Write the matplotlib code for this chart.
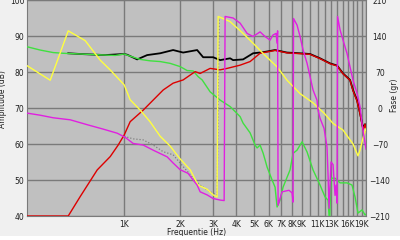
import matplotlib
matplotlib.use("Agg")
import matplotlib.pyplot as plt
from matplotlib.patches import Rectangle

# --- amplitude curves (dB) ---
woofer_f = [301, 353, 415, 470, 580, 791, 895, 1000, 1077, 1219, 1380, 1562, 1767, 2000,
            2182, 2350, 2500, 2627, 2900, 3282, 3715, 3953, 4205, 4363, 4758, 5062, 5188,
            5384, 5588, 5728, 5872, 6248, 6484, 6646, 6898, 7157, 7805, 8102, 8515, 9057,
            9636, 10378, 11318, 12039, 12497, 12730, 12970, 13630, 14502, 15810, 16820,
            17460, 18110, 19040, 19760, 20000]
woofer_db = [87.0, 86.1, 85.4, 85.2, 85.0, 84.7, 84.6, 85.0, 84.4, 83.5, 83.1, 82.9, 82.4, 81.5,
             80.4, 80.3, 78.7, 77.8, 74.5, 72.2, 70.4, 69.0, 67.6, 65.8, 63.1, 59.7, 58.9,
             59.7, 57.5, 55.6, 53.6, 50.0, 48.0, 42.5, 44.4, 48.0, 52.8, 57.4, 58.3, 60.6,
             57.8, 52.8, 48.6, 45.3, 44.4, 38.0, 50.5, 50.5, 49.2, 49.2, 48.6,
             45.3, 40.8, 41.7, 40.3, 40.5]

total_f = [500, 580, 791, 1000, 1038, 1175, 1329, 1562, 1834, 2076, 2469, 2660, 3010, 3282,
           3715, 3855, 4363, 4938, 5588, 6484, 7520, 8837, 10000, 11318, 12810, 13974,
           15050, 16410, 17030, 17890, 18570, 19040, 19280, 19760, 20000]
total_db = [85.2, 85.0, 84.7, 85.0, 84.8, 83.5, 84.7, 85.2, 86.1, 85.4, 86.1, 84.1, 84.1, 83.3,
            83.8, 83.3, 83.5, 85.2, 85.5, 86.1, 85.4, 85.2, 85.0, 83.8, 82.4, 81.8,
            79.6, 77.8, 75.0, 72.2, 68.6, 65.8, 64.5, 65.5, 64.5]

tweeter_f = [301, 500, 580, 716, 841, 928, 1000, 1077, 1265, 1432, 1621, 1834, 2076, 2409,
             2563, 2900, 3282, 3579, 4205, 4758, 5384, 6484, 7520, 8837, 10000, 11318,
             12810, 13974, 15050, 16410, 17030, 17890, 18570, 19040, 19280, 19760, 20000]
tweeter_db = [40.0, 40.0, 45.4, 52.8, 56.5, 59.7, 62.5, 66.2, 69.4, 72.2, 75.0, 76.9, 77.8, 80.1,
              79.6, 81.0, 80.6, 81.0, 81.9, 82.9, 85.2, 86.0, 85.3, 85.1, 84.9, 83.7,
              82.3, 81.7, 79.5, 77.7, 74.8, 72.0, 68.4, 65.5, 63.9, 65.5, 63.5]

# --- phase curves (degrees) ---
yellow_f = [301, 400, 500, 617, 743, 841, 1000, 1077, 1219, 1380, 1562, 1767, 2000, 2264,
            2500, 2795, 3010, 3162, 3202, 3715, 4363, 5062, 5588, 6646, 7520, 8837, 10378,
            11900, 13298, 15050, 17030, 18110, 18570, 19280, 20000]
yellow_deg = [82, 54, 150, 131, 93, 74, 45, 16, -4, -27, -55, -74, -99, -120,
              -150, -158, -169, -173, 178, 168, 145, 122, 106, 80, 54, 28, 10,
              -10, -30, -43, -70, -93, -82, -58, -40]

magenta_f = [301, 353, 415, 513, 640, 770, 917, 1012, 1118, 1265, 1432, 1703, 1834, 2000,
             2205, 2469, 2563, 2795, 3010, 3282, 3450, 3491, 3855, 4205, 4585, 4938, 5384,
             5728, 6094, 6320, 6565, 6646, 6690, 6730, 7070, 7700, 8000, 8102, 8150, 8515,
             8837, 9170, 9636, 10000, 10378, 10905, 11050, 11318, 11900, 12340, 12497,
             12650, 12810, 12970, 13298, 13630, 13800, 13974, 14060, 14502, 15050, 15810,
             16410, 17030, 17890, 18570, 19040, 19500, 20000]
magenta_deg = [-10, -14, -19, -23, -33, -41, -49, -57, -69, -72, -82, -95, -107, -120,
               -127, -150, -163, -169, -176, -179, -180, 178, 175, 165, 145, 139, 148,
               139, 132, 142, 145, 126, 150, -189, -163, -160, -165, -183, 174, 161,
               139, 113, 87, 61, 35, 15, -5, -20, -40, -76, -130,
               -195, -150, -105, -110, -170, -150, -185, 178, 152, 132, 106,
               80, 54, 29, 3, -30, -55, -80]

target_f = [1000, 1118, 1265, 1432, 1621, 1834, 2076, 2350, 2563, 2900, 3162, 3242]
target_deg = [-55, -60, -62, -72, -85, -91, -114, -136, -150, -163, -169, 176]

xtick_vals = [1000, 2000, 3000, 4000, 5000, 6000, 7000, 8000, 9000, 11000, 13000, 16000, 19000]
xtick_labels = ["1K", "2K", "3K", "4K", "5K", "6K", "7K", "8K", "9K", "11K", "13K", "16K", "19K"]
grid_khz = [k * 1000 for k in range(1, 21)]

fs = 5.5
fig = plt.figure(figsize=(4, 2.4), dpi=100, facecolor="#f0f0f0")
fig.patches.append(Rectangle((0, 0), 1, 0.017, transform=fig.transFigure,
                             facecolor="white", edgecolor="none", zorder=0))
ax = fig.add_axes([27 / 400, 24 / 240, 339 / 400, 216 / 240])
ax.set_facecolor("#c0c0c0")
ax.set_xscale("log")
ax.set_xlim(300, 20000)
ax.set_ylim(40, 100)

ax.set_xticks(grid_khz, minor=True)
ax.set_xticks(xtick_vals)
ax.set_xticklabels(xtick_labels)
ax.tick_params(axis="x", which="minor", length=0, labelbottom=False)
ax.tick_params(axis="x", which="major", length=0, labelsize=fs, pad=3, colors="#202020")
ax.set_yticks(range(40, 101, 10))
ax.tick_params(axis="y", length=0, labelsize=fs, pad=2, colors="#202020")
ax.grid(True, which="both", axis="x", color="#7a7a7a", lw=1.0)
ax.grid(True, which="major", axis="y", color="#7a7a7a", lw=1.0)
ax.set_axisbelow(True)
for s in ax.spines.values():
    s.set_color("#7a7a7a")

ax.plot(total_f, total_db, color="black", lw=1.3, zorder=3)
ax.plot(woofer_f, woofer_db, color="#40e040", lw=1.0, zorder=4)
ax.plot(tweeter_f, tweeter_db, color="#dd0000", lw=1.0, zorder=5)

ax.set_xlabel("Frequentie (Hz)", fontsize=fs, color="#202020")
ax.xaxis.set_label_coords(0.5, -0.055)
ax.set_ylabel("Amplitude (dB)", fontsize=fs, color="#202020")
ax.yaxis.set_label_coords(-0.058, 0.54)

ax2 = ax.twinx()
ax2.set_ylim(-210, 210)
ax2.set_yticks(range(-210, 211, 70))
ax2.tick_params(axis="y", length=0, labelsize=fs, pad=10, colors="#202020")
for lab in ax2.get_yticklabels():
    lab.set_horizontalalignment("center")
for s in ax2.spines.values():
    s.set_visible(False)
ax2.plot(target_f, target_deg, color="#808080", lw=0.9, ls=(0, (1, 1.5)))
ax2.plot(yellow_f, yellow_deg, color="#ffff40", lw=1.0)
ax2.plot(magenta_f, magenta_deg, color="#e020e0", lw=1.0)
ax2.set_ylabel("Fase (gr)", fontsize=fs, color="#202020")
ax2.yaxis.set_label_coords(1.072, 0.56)

fig.savefig("out.png", dpi=100, facecolor=fig.get_facecolor())
